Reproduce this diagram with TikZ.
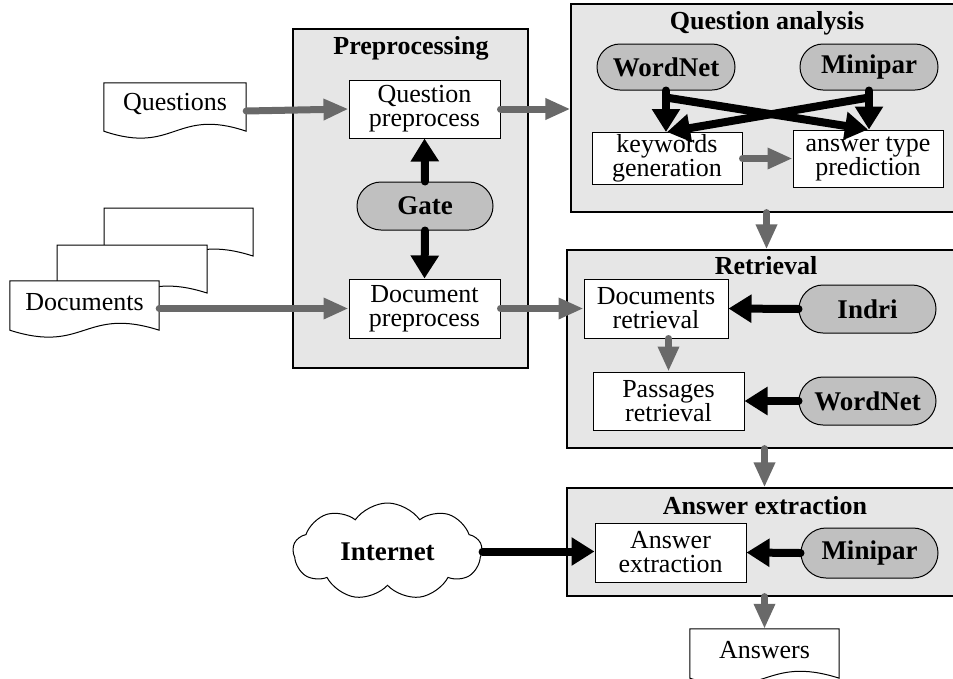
\documentclass[tikz,border=0pt]{standalone}
\usepackage{fontspec}
\setmainfont{Liberation Serif}
\usetikzlibrary{arrows.meta,shapes.misc,shapes.symbols,backgrounds}
\definecolor{panelgray}{RGB}{230,230,230}
\definecolor{pillgray}{RGB}{192,192,192}
\definecolor{arrowgray}{RGB}{105,105,105}
\newcommand{\txtfont}{\fontsize{26}{24}\selectfont}
\newcommand{\bldfont}{\fontsize{27}{27}\selectfont\bfseries}
\newcommand{\ttlfont}{\fontsize{26}{26}\selectfont\bfseries}
\newcommand{\up}[1]{\raisebox{3pt}[\height][\depth]{#1}}
\begin{document}
\begin{tikzpicture}[x=1pt,y=-1pt,
  panel/.style={draw, line width=1.2pt, fill=panelgray, inner sep=0},
  title/.style={font=\ttlfont, inner sep=0},
  procbox/.style={draw, line width=1pt, fill=white, align=center, font=\txtfont, inner sep=0},
  pill/.style={rounded rectangle, draw, line width=1pt, fill=pillgray, font=\bldfont, inner sep=0},
  docnode/.style={align=center, font=\txtfont, inner sep=0},
  docline/.style={draw, line width=1pt},
  grayarrow/.style={draw=arrowgray, line width=7pt, line cap=round, -{Triangle[length=25pt,width=20pt]}},
  blackarrow/.style={draw=black, line width=8pt, line cap=round, -{Triangle[length=23pt,width=27pt]}}
]
\useasboundingbox (0,0) rectangle (953,678);
\clip (0,0) rectangle (953,678);

% panels
\node[panel, minimum width=235, minimum height=339] (prep) at (410.5,198.5) {};
\node[panel, minimum width=391, minimum height=208] (qa) at (766.5,108) {};
\node[panel, minimum width=395, minimum height=198] (ret) at (764.5,349) {};
\node[panel, minimum width=395, minimum height=108] (ae) at (764.5,542) {};

% titles
\node[title] (preptitle) at (411,48) {Preprocessing};
\node[title] (qatitle) at (767,23) {Question analysis};
\node[title] (rettitle) at (766,266) {Retrieval};
\node[title] (aetitle) at (765,505.5) {Answer extraction};

% preprocessing
\node[procbox, minimum width=151, minimum height=58] (qpre) at (424.5,109) {Question\\preprocess};
\node[procbox, minimum width=151, minimum height=59] (docpre) at (424.5,308.5) {Document\\preprocess};
\node[pill, minimum width=136, minimum height=48] (gate) at (425,206) {Gate};

% question analysis
\node[pill, minimum width=138, minimum height=46] (wn1) at (666,67) {WordNet};
\node[pill, minimum width=138, minimum height=46] (mp1) at (869,67) {Minipar};
\node[procbox, minimum width=150, minimum height=52] (kw) at (667,158.5) {keywords\\generation};
\node[procbox, minimum width=150, minimum height=57] (at) at (868,158.5) {answer type\\prediction};

% retrieval
\node[procbox, minimum width=144, minimum height=59] (docret) at (656,308.5) {Documents\\retrieval};
\node[procbox, minimum width=151, minimum height=58] (passret) at (668.5,401) {Passages\\retrieval};
\node[pill, minimum width=137, minimum height=48] (indri) at (867.5,309) {Indri};
\node[pill, minimum width=137, minimum height=48] (wn2) at (867.5,401) {WordNet};

% answer extraction
\node[procbox, minimum width=151, minimum height=59] (aeinner) at (670.5,552.5) {Answer\\extraction};
\node[pill, minimum width=137, minimum height=50] (mp3) at (869.5,553) {Minipar};
\node[cloud, draw, line width=1pt, fill=white, cloud puffs=9, cloud puff arc=110, aspect=2,
      minimum width=189, minimum height=97, inner sep=0, font=\bldfont] (net) at (387.5,551.5) {Internet};

% documents
\node[docnode, minimum width=142, minimum height=48] (questions) at (175,107) {\up{Questions}};
\draw[docline] (questions.south west) -- (questions.north west) -- (questions.north east)
  -- (questions.south east) .. controls +(-71,-24) and +(71,24) .. (questions.south west) -- cycle;

\node[docnode, minimum width=149, minimum height=49] (docs) at (84.5,305.5) {\up{Documents}};
\begin{pgfonlayer}{background}
\draw[docline, fill=white] (104,256) -- (104,208) -- (253,208) -- (253,256)
  .. controls +(-75,-24) and +(75,24) .. (104,256) -- cycle;
\draw[docline, fill=white] (57,293) -- (57,245) -- (207,245) -- (207,293)
  .. controls +(-75,-24) and +(75,24) .. (57,293) -- cycle;
\draw[docline, fill=white] (docs.south west) -- (docs.north west) -- (docs.north east)
  -- (docs.south east) .. controls +(-75,-24) and +(75,24) .. (docs.south west) -- cycle;
\end{pgfonlayer}

\node[docnode, minimum width=149, minimum height=49] (answers) at (764.5,653.5) {\up{Answers}};
\draw[docline] (answers.south west) -- (answers.north west) -- (answers.north east)
  -- (answers.south east) .. controls +(-75,-24) and +(75,24) .. (answers.south west) -- cycle;

% connectors
\draw[grayarrow] ([yshift=-4pt]questions.east) -- (qpre.west);
\draw[grayarrow] (docs.east |- docpre.west) -- (docpre.west);
\draw[grayarrow] (qpre.east) -- (qpre.east -| qa.west);
\draw[grayarrow] (docpre.east) -- (docret.west);
\draw[blackarrow] (gate.north) -- (qpre.south);
\draw[blackarrow] (gate.south) -- (docpre.north);

\draw[blackarrow] (wn1.south) -- (wn1.south |- kw.north);
\draw[blackarrow] ([yshift=-7pt]wn1.south) -- (at.north);
\draw[blackarrow] (mp1.south) -- (mp1.south |- at.north);
\draw[blackarrow] ([yshift=-7pt]mp1.south) -- (kw.north);
\draw[grayarrow] (kw.east) -- (at.west);
\draw[grayarrow] (qa.south) -- (qa.south |- ret.north);

\draw[blackarrow] (indri.west) -- (docret.east);
\draw[grayarrow] (passret.north |- docret.south) -- (passret.north);
\draw[blackarrow] (wn2.west) -- (passret.east);
\draw[grayarrow] (ret.south) -- (ae.north);

\draw[blackarrow] (net.east) -- (net.east -| aeinner.west);
\draw[blackarrow] (mp3.west) -- (aeinner.east);
\draw[grayarrow] (ae.south) -- (answers.north);
\end{tikzpicture}
\end{document}
